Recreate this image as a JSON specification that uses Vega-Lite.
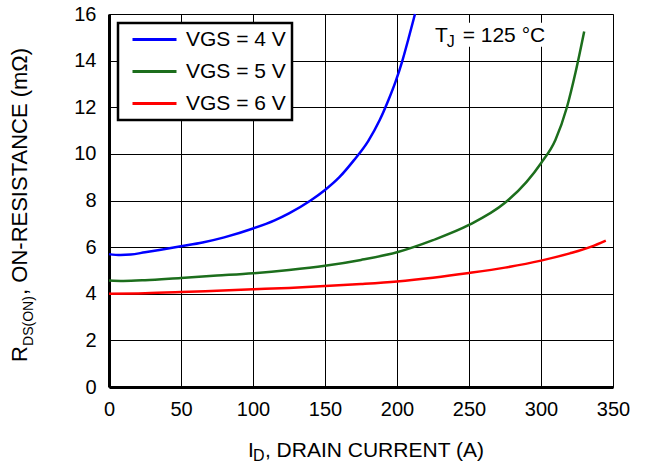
{
  "$schema": "https://vega.github.io/schema/vega-lite/v6.json",
  "width": 504,
  "height": 373,
  "autosize": "none",
  "padding": {"left": 109, "top": 14, "right": 33, "bottom": 79},
  "background": "white",
  "config": {
    "font": "Liberation Sans",
    "view": {"stroke": "#808080", "strokeWidth": 1},
    "axis": {
      "grid": true,
      "gridColor": "black",
      "gridWidth": 1,
      "gridOpacity": 1,
      "domainColor": "black",
      "domainWidth": 3,
      "ticks": false,
      "tickSize": 0,
      "labelFontSize": 20,
      "labelFont": "Liberation Sans",
      "labelColor": "black",
      "labelFlush": false,
      "labelOverlap": false
    },
    "legend": {
      "orient": "none",
      "legendX": 9,
      "legendY": 9,
      "title": null,
      "symbolType": "stroke",
      "symbolSize": 1936,
      "symbolStrokeWidth": 3,
      "clipHeight": 21,
      "rowPadding": 10,
      "padding": 6,
      "symbolOffset": 7,
      "labelOffset": 8,
      "labelFontSize": 21,
      "labelFont": "Liberation Sans",
      "labelColor": "black",
      "strokeColor": "black",
      "strokeWidth": 2.5,
      "fillColor": "white"
    }
  },
  "layer": [
    {
      "data": {
        "values": [
          {"series": "VGS = 4 V", "id": 0, "r": 5.7},
          {"series": "VGS = 4 V", "id": 8, "r": 5.66},
          {"series": "VGS = 4 V", "id": 15, "r": 5.68},
          {"series": "VGS = 4 V", "id": 25, "r": 5.78},
          {"series": "VGS = 4 V", "id": 35, "r": 5.88},
          {"series": "VGS = 4 V", "id": 50, "r": 6.04},
          {"series": "VGS = 4 V", "id": 65, "r": 6.2},
          {"series": "VGS = 4 V", "id": 80, "r": 6.42},
          {"series": "VGS = 4 V", "id": 100, "r": 6.8},
          {"series": "VGS = 4 V", "id": 115, "r": 7.15},
          {"series": "VGS = 4 V", "id": 125, "r": 7.45},
          {"series": "VGS = 4 V", "id": 140, "r": 8.0},
          {"series": "VGS = 4 V", "id": 150, "r": 8.45},
          {"series": "VGS = 4 V", "id": 160, "r": 9.0},
          {"series": "VGS = 4 V", "id": 170, "r": 9.72},
          {"series": "VGS = 4 V", "id": 180, "r": 10.55},
          {"series": "VGS = 4 V", "id": 188, "r": 11.45},
          {"series": "VGS = 4 V", "id": 194, "r": 12.3},
          {"series": "VGS = 4 V", "id": 199, "r": 13.1},
          {"series": "VGS = 4 V", "id": 203.5, "r": 13.95},
          {"series": "VGS = 4 V", "id": 208, "r": 14.95},
          {"series": "VGS = 4 V", "id": 212.5, "r": 16.0},
          {"series": "VGS = 5 V", "id": 0, "r": 4.57},
          {"series": "VGS = 5 V", "id": 10, "r": 4.55},
          {"series": "VGS = 5 V", "id": 25, "r": 4.58},
          {"series": "VGS = 5 V", "id": 50, "r": 4.68},
          {"series": "VGS = 5 V", "id": 75, "r": 4.78},
          {"series": "VGS = 5 V", "id": 100, "r": 4.88},
          {"series": "VGS = 5 V", "id": 125, "r": 5.02},
          {"series": "VGS = 5 V", "id": 150, "r": 5.2},
          {"series": "VGS = 5 V", "id": 175, "r": 5.45},
          {"series": "VGS = 5 V", "id": 200, "r": 5.78},
          {"series": "VGS = 5 V", "id": 225, "r": 6.3},
          {"series": "VGS = 5 V", "id": 250, "r": 6.95},
          {"series": "VGS = 5 V", "id": 275, "r": 7.9},
          {"series": "VGS = 5 V", "id": 290, "r": 8.8},
          {"series": "VGS = 5 V", "id": 300, "r": 9.6},
          {"series": "VGS = 5 V", "id": 310, "r": 10.6},
          {"series": "VGS = 5 V", "id": 318, "r": 12.0},
          {"series": "VGS = 5 V", "id": 324, "r": 13.5},
          {"series": "VGS = 5 V", "id": 330, "r": 15.25},
          {"series": "VGS = 6 V", "id": 0, "r": 4.0},
          {"series": "VGS = 6 V", "id": 25, "r": 4.02},
          {"series": "VGS = 6 V", "id": 50, "r": 4.07},
          {"series": "VGS = 6 V", "id": 75, "r": 4.13},
          {"series": "VGS = 6 V", "id": 100, "r": 4.19},
          {"series": "VGS = 6 V", "id": 125, "r": 4.25},
          {"series": "VGS = 6 V", "id": 150, "r": 4.33},
          {"series": "VGS = 6 V", "id": 175, "r": 4.42},
          {"series": "VGS = 6 V", "id": 200, "r": 4.53},
          {"series": "VGS = 6 V", "id": 225, "r": 4.69},
          {"series": "VGS = 6 V", "id": 250, "r": 4.89},
          {"series": "VGS = 6 V", "id": 275, "r": 5.12},
          {"series": "VGS = 6 V", "id": 300, "r": 5.42},
          {"series": "VGS = 6 V", "id": 320, "r": 5.73},
          {"series": "VGS = 6 V", "id": 335, "r": 6.02},
          {"series": "VGS = 6 V", "id": 345, "r": 6.28}
        ]
      },
      "mark": {"type": "line", "strokeWidth": 2.5, "interpolate": "monotone"},
      "encoding": {
        "x": {"field": "id", "type": "quantitative", "title": null,
              "scale": {"domain": [0, 350], "nice": false, "zero": false},
              "axis": {"values": [0, 50, 100, 150, 200, 250, 300, 350], "labelPadding": 12, "title": null}},
        "y": {"field": "r", "type": "quantitative", "title": null,
              "scale": {"domain": [0, 16], "nice": false, "zero": false},
              "axis": {"values": [0, 2, 4, 6, 8, 10, 12, 14, 16], "labelPadding": 13, "title": null}},
        "color": {"field": "series", "type": "nominal",
                  "scale": {"domain": ["VGS = 4 V", "VGS = 5 V", "VGS = 6 V"],
                            "range": ["#0000ff", "#1c6e1c", "#ff0000"]},
                  "legend": {"labelExpr": "datum.label + '\u00a0\u00a0'"}}
      }
    },
    {
      "data": {"values": [{"x1": 222, "x2": 308, "y1": 14.59, "y2": 15.62}]},
      "mark": {"type": "rect", "fill": "white"},
      "encoding": {
        "x": {"field": "x1", "type": "quantitative", "title": null},
        "x2": {"field": "x2"},
        "y": {"field": "y1", "type": "quantitative", "title": null},
        "y2": {"field": "y2"}
      }
    },
    {
      "data": {"values": [
        {"t": "T", "x": 226.4, "y": 14.81},
        {"t": "= 125 °C", "x": 245.6, "y": 14.81},
        {"t": "I", "x": 96.5, "y": -3.0},
        {"t": ", DRAIN CURRENT (A)", "x": 108.3, "y": -3.0}
      ]},
      "mark": {"type": "text", "align": "left", "baseline": "alphabetic", "fontSize": 21, "font": "Liberation Sans", "color": "black"},
      "encoding": {
        "x": {"field": "x", "type": "quantitative", "title": null},
        "y": {"field": "y", "type": "quantitative", "title": null},
        "text": {"field": "t"}
      }
    },
    {
      "data": {"values": [
        {"t": "J", "x": 234.5, "y": 14.6},
        {"t": "D", "x": 100, "y": -3.17}
      ]},
      "mark": {"type": "text", "align": "left", "baseline": "alphabetic", "fontSize": 16, "font": "Liberation Sans", "color": "black"},
      "encoding": {
        "x": {"field": "x", "type": "quantitative", "title": null},
        "y": {"field": "y", "type": "quantitative", "title": null},
        "text": {"field": "t"}
      }
    },
    {
      "data": {"values": [
        {"t": "R", "x": -57.2, "y": 1.07},
        {"t": ", ON-RESISTANCE (mΩ)", "x": -57.2, "y": 3.95}
      ]},
      "mark": {"type": "text", "align": "left", "baseline": "alphabetic", "angle": 270, "fontSize": 22, "font": "Liberation Sans", "color": "black"},
      "encoding": {
        "x": {"field": "x", "type": "quantitative", "title": null},
        "y": {"field": "y", "type": "quantitative", "title": null},
        "text": {"field": "t"}
      }
    },
    {
      "data": {"values": [
        {"t": "DS(ON)", "x": -52.8, "y": 1.76}
      ]},
      "mark": {"type": "text", "align": "left", "baseline": "alphabetic", "angle": 270, "fontSize": 14, "font": "Liberation Sans", "color": "black"},
      "encoding": {
        "x": {"field": "x", "type": "quantitative", "title": null},
        "y": {"field": "y", "type": "quantitative", "title": null},
        "text": {"field": "t"}
      }
    }
  ]
}
